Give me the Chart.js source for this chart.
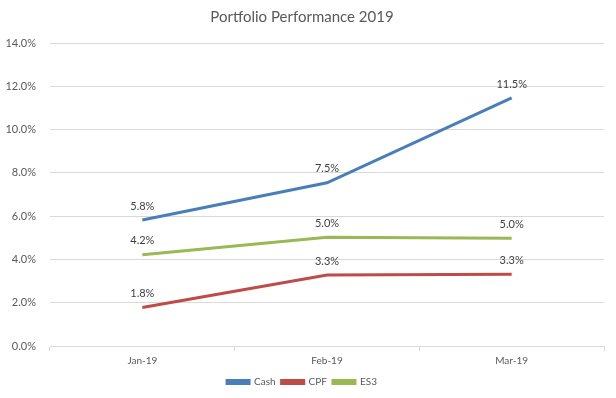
<!DOCTYPE html>
<html><head><meta charset="utf-8">
<script src="https://cdn.jsdelivr.net/npm/chart.js@4"></script>
<style>html,body{margin:0;padding:0;background:#fff}#wrap{width:616px;height:398px}</style>
</head><body><div id="wrap"><canvas id="c" width="616" height="398"></canvas></div>
<script>
const categories = ["Jan-19", "Feb-19", "Mar-19"];
const cash = [5.82, 7.54, 11.46];
const cpf = [1.78, 3.28, 3.32];
const es3 = [4.22, 5.02, 4.98];
const seriesNames = ["Cash", "CPF", "ES3"];
const yTicks = [0, 2, 4, 6, 8, 10, 12, 14];

const FONT = "Lato, 'Open Sans', sans-serif";
const labelPlugin = {
  id: 'dlabels',
  afterDatasetsDraw(chart) {
    const ctx = chart.ctx;
    ctx.save();
    ctx.font = "11px " + FONT;
    ctx.fillStyle = "#404040";
    ctx.textAlign = "center";
    ctx.textBaseline = "middle";
    chart.data.datasets.forEach((ds, i) => {
      const meta = chart.getDatasetMeta(i);
      meta.data.forEach((pt, j) => {
        ctx.fillText(ds.data[j].toFixed(1) + "%", pt.x, pt.y - 14);
      });
    });
    ctx.restore();
  }
};

new Chart(document.getElementById('c'), {
  type: 'line',
  data: {
    labels: categories,
    datasets: [
      {label: seriesNames[0], data: cash, borderColor: '#4A7EBB', backgroundColor: '#4A7EBB'},
      {label: seriesNames[1], data: cpf, borderColor: '#BE4B48', backgroundColor: '#BE4B48'},
      {label: seriesNames[2], data: es3, borderColor: '#98B954', backgroundColor: '#98B954'}
    ].map(d => Object.assign(d, {borderWidth: 3, pointRadius: 0, tension: 0, fill: false}))
  },
  options: {
    responsive: false,
    animation: false,
    layout: {padding: {left: 0, right: 12, top: 0, bottom: 1}},
    plugins: {
      title: {display: true, text: "Portfolio Performance 2019", color: "#595959",
        font: {family: FONT, size: 15, weight: 'normal'}, padding: {top: 8, bottom: 17}},
      legend: {position: 'bottom', labels: {boxWidth: 22, boxHeight: 3, color: '#595959',
        font: {family: FONT, size: 10}, padding: 6}},
      tooltip: {enabled: false}
    },
    scales: {
      x: {
        offset: true,
        grid: {drawOnChartArea: false, drawTicks: true, tickLength: 5, color: '#d9d9d9', offset: true},
        border: {color: '#d9d9d9'},
        ticks: {color: '#595959', font: {family: FONT, size: 10}, padding: 4}
      },
      y: {
        min: 0, max: 14,
        afterBuildTicks: (s) => { s.ticks = yTicks.map(v => ({value: v})); },
        afterFit: (s) => { s.width = 50; },
        grid: {color: '#d9d9d9', drawTicks: false},
        border: {display: false},
        ticks: {color: '#595959', font: {family: FONT, size: 11}, padding: 14,
          callback: (v) => v.toFixed(1) + "%"}
      }
    }
  },
  plugins: [labelPlugin]
});
</script></body></html>
